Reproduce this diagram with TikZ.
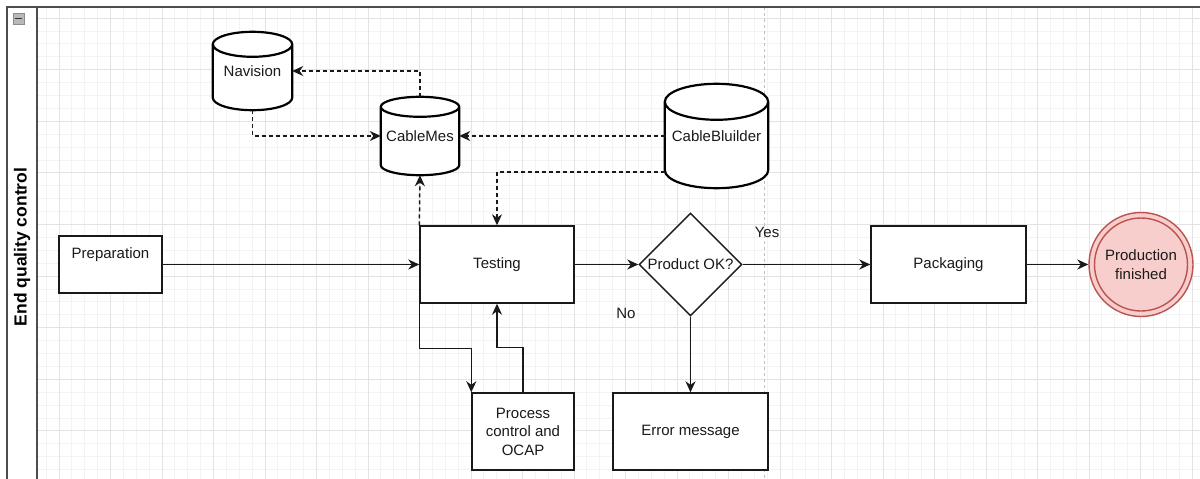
\documentclass[tikz,border=0pt]{standalone}
\usepackage{fontspec}
\setmainfont{Liberation Sans}
\usetikzlibrary{arrows.meta,shapes.geometric,calc}
\definecolor{gridminor}{HTML}{F3F3F3}
\definecolor{gridmajor}{HTML}{E3E3E3}
\definecolor{laneline}{HTML}{4D4D4D}
\definecolor{endfill}{HTML}{F8CECC}
\definecolor{endline}{HTML}{B85450}
\definecolor{inktext}{HTML}{1A1A1A}

% outline of a database drum around an (empty) node: #1 node, #2 cap half-height
\newcommand\drumoutline[2]{%
  \draw[drum] let \p1=(#1.north west), \p2=(#1.south east), \n1={0.5*(\x2-\x1)} in
    (\x1,{\y1-#2}) -- (\x1,{\y2+#2})
      arc[start angle=180,end angle=360,x radius=\n1,y radius=#2] -- (\x2,{\y1-#2})
    ({0.5*(\x1+\x2)},{\y1-#2}) ellipse[x radius=\n1,y radius=#2];}

\begin{document}
\begin{tikzpicture}[x=1pt,y=-1pt,
  txt/.style={font=\fontsize{15}{18.5}\selectfont, text=inktext, inner sep=0pt, align=center},
  box/.style={draw=black!90, line width=1.4pt, fill=white, inner sep=0pt},
  drumbox/.style={inner sep=0pt},
  drum/.style={draw=black, line width=2.2pt, fill=white},
  decision/.style={box, diamond, aspect=1},
  endstate/.style={circle, draw=endline, fill=endfill, line width=1.4pt, inner sep=0pt, minimum size=104pt},
  flow/.style={draw=black!90, line width=1.5pt, -{Stealth[length=11pt,width=10pt,inset=3.5pt]}},
  dataflow/.style={flow, dash pattern=on 4pt off 3pt},
  lane/.style={draw=laneline, line width=2pt},
]
\useasboundingbox (0,0) rectangle (1200,479);

% background grid inside the lane
\begin{scope}
  \clip (37,7) rectangle (1200,479);
  \foreach \i in {-2,...,90}
    \draw[gridminor, line width=0.8pt] ({59+12.875*\i},0) -- ({59+12.875*\i},479);
  \foreach \j in {-2,...,37}
    \draw[gridminor, line width=0.8pt] (37,{18+12.9*\j}) -- (1200,{18+12.9*\j});
  \foreach \i in {0,...,22}
    \draw[gridmajor, line width=1pt] ({59+51.5*\i},0) -- ({59+51.5*\i},479);
  \foreach \j in {0,...,9}
    \draw[gridmajor, line width=1pt] (37,{18+51.6*\j}) -- (1200,{18+51.6*\j});
  % page boundary
  \draw[black!25, line width=0.8pt, dash pattern=on 3pt off 3pt] (764,7) -- (764,479);
\end{scope}

% swimlane frame and header
\draw[lane] (1200,7) -- (7,7) -- (7,479);
\draw[lane] (37,7) -- (37,479);
\draw[fill=black!28, draw=black!45, line width=0.8pt] (13,13) rectangle (24,24);
\draw[black!80, line width=1.6pt] (15,18.5) -- (22,18.5);
\node[font=\bfseries\fontsize{17.5}{20}\selectfont, text=black, rotate=90, inner sep=0pt]
  (lanetitle) at (22,247) {End quality control};

% databases
\node[drumbox, minimum width=79pt, minimum height=78pt] (nav) at (252.5,71) {};
\drumoutline{nav}{12.5pt}
\node[txt] (navtext) at (nav.center) {Navision};

\node[drumbox, minimum width=78pt, minimum height=78pt] (cmes) at (420,136) {};
\drumoutline{cmes}{10pt}
\node[txt] (cmestext) at (cmes.center) {CableMes};

\node[drumbox, minimum width=103pt, minimum height=104pt] (cb) at (716.5,136) {};
\drumoutline{cb}{18pt}
\node[txt] (cbtext) at (cb.center) {CableBluilder};

% process steps
\node[box, minimum width=103pt, minimum height=57pt] (prep) at (110.5,264.5) {};
\node[txt] (preptext) at (110.5,255) {Preparation};

\node[box, minimum width=154pt, minimum height=77pt] (test) at (497,264.5) {};
\node[txt] (testtext) at (test.center) {Testing};

\node[decision, minimum width=103pt, minimum height=103pt] (dia) at (690.5,264.5) {};
\node[txt] (diatext) at (dia.center) {Product OK?};

\node[box, minimum width=155pt, minimum height=77pt] (pack) at (948.5,264.5) {};
\node[txt] (packtext) at (pack.center) {Packaging};

\node[endstate] (fin) at (1141,264.5) {};
\draw[endline, line width=1.4pt] (fin.center) circle[radius=46.5pt];
\node[txt] (fintext) at (fin.center) {Production\\finished};

\node[box, minimum width=102pt, minimum height=77pt] (proc) at (523,431.5) {};
\node[txt] (proctext) at (proc.center) {Process\\control and\\OCAP};

\node[box, minimum width=155pt, minimum height=77pt] (err) at (690.5,431.5) {};
\node[txt] (errtext) at (err.center) {Error message};

% data exchange
\draw[dataflow] (cmes.north) |- (nav.east);
\draw[dataflow] (nav.south) |- (cmes.west);
\draw[dataflow] (cb.west) -- (cmes.east);
\draw[dataflow] ([yshift=-36pt]cb.west) -| (test.north);
\draw[dataflow] (test.north west) -- (cmes.south);

% main flow
\draw[flow] (prep.east) -- (test.west);
\draw[flow] (test.east) -- (dia.west);
\draw[flow] (dia.east) -- (pack.west);
\draw[flow] (pack.east) -- (fin.west);
\draw[flow] (dia.south) -- (err.north);
\draw[flow] (test.south west) -- ++(0,45) -| (proc.north west);
\draw[flow] (proc.north) -- ++(0,-45) -| (test.south);

% branch labels
\node[txt] (yes) at (767,232) {Yes};
\node[txt] (no) at (626,313) {No};
\end{tikzpicture}
\end{document}
